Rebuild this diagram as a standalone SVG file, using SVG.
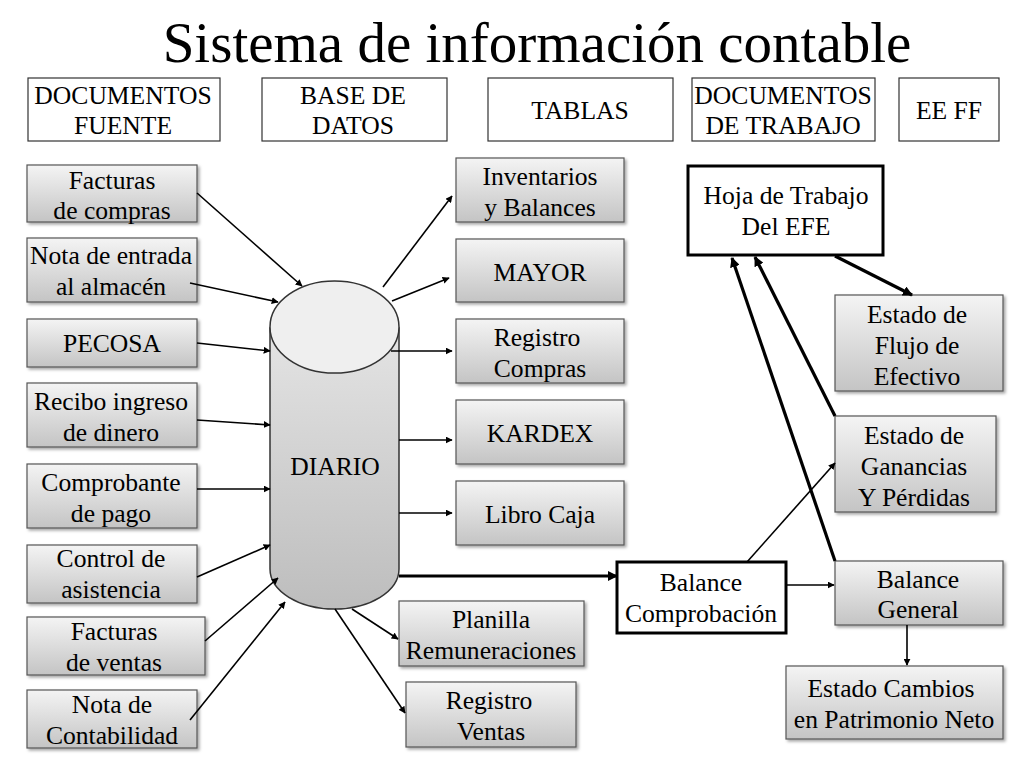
<svg xmlns="http://www.w3.org/2000/svg" width="1024" height="768" viewBox="0 0 1024 768">
<defs>
<linearGradient id="g" x1="0" y1="0" x2="0" y2="1">
<stop offset="0" stop-color="#f4f4f4"/>
<stop offset="1" stop-color="#c4c4c4"/>
</linearGradient>
<linearGradient id="cyl" x1="0" y1="0" x2="0" y2="1">
<stop offset="0" stop-color="#e4e4e4"/>
<stop offset="1" stop-color="#bdbdbd"/>
</linearGradient>
<filter id="sh" x="-10%" y="-10%" width="130%" height="130%">
<feDropShadow dx="2" dy="2" stdDeviation="1.5" flood-color="#000" flood-opacity="0.35"/>
</filter>
<marker id="a" viewBox="0 0 10 10" refX="9" refY="5" markerWidth="7" markerHeight="7" orient="auto" markerUnits="userSpaceOnUse">
<path d="M0,0 L10,5 L0,10 z" fill="#000"/>
</marker>
<marker id="ab" viewBox="0 0 10 10" refX="9" refY="5" markerWidth="10" markerHeight="10" orient="auto" markerUnits="userSpaceOnUse">
<path d="M0,0 L10,5 L0,10 z" fill="#000"/>
</marker>
</defs>
<style>
text{font-family:"Liberation Serif","Times New Roman",serif;fill:#000;text-anchor:middle}
.t{font-size:25.6px}
.h{font-size:25.6px}
.title{font-size:57px}
.gb{fill:url(#g);stroke:#555;stroke-width:1.2;filter:url(#sh)}
.hb{fill:#fff;stroke:#333;stroke-width:1.2}
.wb{fill:#fff;stroke:#000;stroke-width:3}
.c line{stroke:#000;stroke-width:1.6;marker-end:url(#a)}
.c line.k{stroke-width:3.2;marker-end:url(#ab)}
</style>
<g font-family="Liberation Serif, serif">
<text class="title" x="537" y="62">Sistema de información contable</text>

<g id="h1"><rect class="hb" x="28" y="78" width="192" height="63"/><text class="h" x="123" y="104">DOCUMENTOS</text><text class="h" x="123" y="134">FUENTE</text></g>
<g id="h2"><rect class="hb" x="262" y="78" width="185" height="63"/><text class="h" x="353" y="104">BASE DE</text><text class="h" x="353" y="134">DATOS</text></g>
<g id="h3"><rect class="hb" x="488" y="78" width="185" height="63"/><text class="h" x="580" y="119">TABLAS</text></g>
<g id="h4"><rect class="hb" x="692" y="78" width="183" height="63"/><text class="h" x="783" y="104">DOCUMENTOS</text><text class="h" x="783" y="134">DE TRABAJO</text></g>
<g id="h5"><rect class="hb" x="899" y="78" width="100" height="63"/><text class="h" x="949" y="119">EE FF</text></g>

<g id="n1"><rect class="gb" x="27" y="165" width="170" height="57"/><text class="t" x="112" y="189">Facturas</text><text class="t" x="112" y="219">de compras</text></g>
<g id="n2"><rect class="gb" x="27" y="238" width="170" height="64"/><text class="t" x="111" y="264">Nota de entrada</text><text class="t" x="111" y="295">al almacén</text></g>
<g id="n3"><rect class="gb" x="27" y="319" width="170" height="48"/><text class="t" x="112" y="352">PECOSA</text></g>
<g id="n4"><rect class="gb" x="27" y="383" width="170" height="64"/><text class="t" x="111" y="410">Recibo ingreso</text><text class="t" x="111" y="441">de dinero</text></g>
<g id="n5"><rect class="gb" x="27" y="464" width="170" height="64"/><text class="t" x="111" y="491">Comprobante</text><text class="t" x="111" y="522">de pago</text></g>
<g id="n6"><rect class="gb" x="27" y="545" width="170" height="58"/><text class="t" x="111" y="567">Control de</text><text class="t" x="111" y="598">asistencia</text></g>
<g id="n7"><rect class="gb" x="27" y="617" width="178" height="58"/><text class="t" x="114" y="640">Facturas</text><text class="t" x="114" y="671">de ventas</text></g>
<g id="n8"><rect class="gb" x="27" y="690" width="170" height="58"/><text class="t" x="112" y="713">Nota de</text><text class="t" x="112" y="744">Contabilidad</text></g>

<g id="diario">
<path d="M270,328 L270,569 A64.5,40 0 0 0 399,569 L399,328 Z" fill="url(#cyl)" stroke="#333" stroke-width="1.5"/>
<ellipse cx="334.5" cy="327" rx="64.5" ry="46" fill="#efefef" stroke="#333" stroke-width="1.5"/>
<text class="t" x="335" y="475">DIARIO</text>
</g>

<g id="t1"><rect class="gb" x="456" y="158" width="168" height="64"/><text class="t" x="540" y="185">Inventarios</text><text class="t" x="540" y="216">y Balances</text></g>
<g id="t2"><rect class="gb" x="456" y="239" width="168" height="63"/><text class="t" x="540" y="281">MAYOR</text></g>
<g id="t3"><rect class="gb" x="456" y="319" width="168" height="64"/><text class="t" x="537" y="346">Registro</text><text class="t" x="540" y="377">Compras</text></g>
<g id="t4"><rect class="gb" x="456" y="400" width="168" height="64"/><text class="t" x="540" y="442">KARDEX</text></g>
<g id="t5"><rect class="gb" x="456" y="481" width="168" height="64"/><text class="t" x="540" y="523">Libro Caja</text></g>
<g id="t6"><rect class="gb" x="399" y="601" width="185" height="65"/><text class="t" x="491" y="628">Planilla</text><text class="t" x="491" y="659">Remuneraciones</text></g>
<g id="t7"><rect class="gb" x="406" y="682" width="170" height="65"/><text class="t" x="489" y="709">Registro</text><text class="t" x="491" y="740">Ventas</text></g>

<g id="bc"><rect class="wb" x="617" y="562" width="169" height="71"/><text class="t" x="701" y="591">Balance</text><text class="t" x="701" y="622">Comprobación</text></g>
<g id="hoja"><rect class="wb" x="688" y="166" width="195" height="89"/><text class="t" x="786" y="204">Hoja de Trabajo</text><text class="t" x="786" y="235">Del EFE</text></g>

<g id="e1"><rect class="gb" x="835" y="295" width="168" height="96"/><text class="t" x="917" y="323">Estado de</text><text class="t" x="917" y="354">Flujo de</text><text class="t" x="917" y="385">Efectivo</text></g>
<g id="e2"><rect class="gb" x="835" y="416" width="161" height="96"/><text class="t" x="914" y="444">Estado de</text><text class="t" x="914" y="475">Ganancias</text><text class="t" x="914" y="506">Y Pérdidas</text></g>
<g id="e3"><rect class="gb" x="835" y="561" width="168" height="64"/><text class="t" x="918" y="588">Balance</text><text class="t" x="918" y="618">General</text></g>
<g id="e4"><rect class="gb" x="786" y="666" width="217" height="73"/><text class="t" x="891" y="697">Estado Cambios</text><text class="t" x="894" y="728">en Patrimonio Neto</text></g>
</g>

<g id="connectors" class="c">
<line x1="197" y1="193" x2="302" y2="286"/>
<line x1="190" y1="283" x2="278" y2="302"/>
<line x1="197" y1="343" x2="270" y2="351"/>
<line x1="197" y1="420" x2="270" y2="425"/>
<line x1="197" y1="489" x2="270" y2="489"/>
<line x1="197" y1="577" x2="270" y2="545"/>
<line x1="205" y1="641" x2="278" y2="578"/>
<line x1="190" y1="720" x2="285" y2="602"/>
<line x1="383" y1="287" x2="452" y2="196"/>
<line x1="392" y1="301" x2="449" y2="278"/>
<line x1="391" y1="351" x2="452" y2="351"/>
<line x1="399" y1="440" x2="452" y2="440"/>
<line x1="399" y1="513" x2="452" y2="513"/>
<line x1="352" y1="609" x2="398" y2="639"/>
<line x1="335" y1="609" x2="405" y2="713"/>
<line class="k" x1="399" y1="576" x2="617" y2="576"/>
<line x1="786" y1="585" x2="834" y2="585"/>
<line x1="747" y1="562" x2="835" y2="463"/>
<line class="k" x1="835" y1="416" x2="755" y2="257"/>
<line class="k" x1="835" y1="561" x2="732" y2="258"/>
<line class="k" x1="835" y1="256" x2="912" y2="295"/>
<line x1="907" y1="625" x2="907" y2="665"/>
</g>
</svg>
